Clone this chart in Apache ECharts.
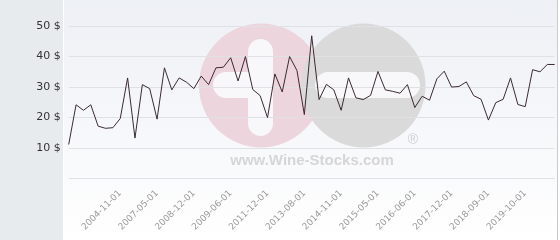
<!DOCTYPE html>
<html>
<head>
<meta charset="utf-8">
<script src="https://cdn.jsdelivr.net/npm/echarts@6/dist/echarts.min.js"></script>
<style>
html,body{margin:0;padding:0;width:560px;height:240px;overflow:hidden;background:#fff;}
#bgL{position:absolute;left:0;top:0;width:63px;height:240px;background:#e8ebee;}
#bgP{position:absolute;left:64px;top:0;width:493px;height:240px;background:linear-gradient(to bottom,#edf0f5 0%,#f6f7fa 50%,#ffffff 100%);border-right:1px solid #c9cbcf;}
#chart{position:absolute;left:0;top:0;width:560px;height:240px;}
</style>
</head>
<body>
<div id="bgL"></div>
<div id="bgP"></div>
<div id="chart"></div>
<script>
const prices = [
  11.2, 24.2, 22.4, 24.2, 17.2, 16.5, 16.7, 19.7, 33.0, 13.3,
  30.8, 29.5, 19.5, 36.3, 29.1, 33.0, 31.6, 29.5, 33.6, 30.8,
  36.3, 36.5, 39.6, 32.0, 40.0, 29.2, 27.2, 20.0, 34.3, 28.4,
  40.0, 35.4, 21.0, 46.8, 25.9, 30.9, 29.1, 22.4, 33.0, 26.5,
  25.9, 27.3, 35.1, 29.1, 28.6, 28.0, 30.8, 23.3, 27.0, 25.7,
  32.7, 35.2, 30.0, 30.2, 31.7, 27.2, 26.0, 19.2, 24.9, 26.0,
  33.0, 24.3, 23.6, 35.7, 35.0, 37.4, 37.4
];
// Visible date tick labels (every 5th observation, starting at the 8th)
const tickLabels = [
  '2004-11-01', '2007-05-01', '2008-12-01', '2009-06-01', '2011-12-01', '2013-08-01',
  '2014-11-01', '2015-05-01', '2016-06-01', '2017-12-01', '2018-09-01', '2019-10-01'
];
const firstTick = 7;
const tickStep = 5;
const yTicks = [0, 10, 20, 30, 40, 50];

const categories = prices.map((_, i) => {
  const k = (i - firstTick) / tickStep;
  return (i >= firstTick && Number.isInteger(k) && k < tickLabels.length) ? tickLabels[k] : '';
});

const chart = echarts.init(document.getElementById('chart'), null, {renderer: 'canvas'});
chart.setOption({
  animation: false,
  grid: {left: 68.7, right: 5.3, top: 26, bottom: 61.3, containLabel: false},
  xAxis: {
    type: 'category',
    data: categories,
    boundaryGap: false,
    axisLine: {show: false},
    axisTick: {show: false},
    splitLine: {show: false},
    axisLabel: {
      interval: (i) => categories[i] !== '',
      rotate: 45,
      color: '#9a9a9a',
      fontSize: 9,
      fontFamily: 'DejaVu Sans',
      margin: 13
    }
  },
  yAxis: {
    type: 'value',
    min: yTicks[0],
    max: yTicks[yTicks.length - 1],
    interval: 10,
    axisLine: {show: false},
    axisTick: {show: false},
    splitLine: {lineStyle: {color: '#e0e1e4', width: 1}},
    axisLabel: {
      formatter: (v) => v === 0 ? '' : v + ' $',
      color: '#333',
      fontSize: 11,
      fontFamily: 'DejaVu Sans',
      margin: 8
    }
  },
  graphic: [
    {type: 'circle', z: -10, silent: true, shape: {cx: 261, cy: 85.5, r: 62}, style: {fill: '#ecd5dc'}},
    {type: 'rect', z: -10, silent: true, shape: {x: 248, y: 39, width: 25, height: 97, r: 12.5}, style: {fill: '#f8f8fb'}},
    {type: 'rect', z: -10, silent: true, shape: {x: 213, y: 72, width: 52, height: 26, r: 13}, style: {fill: '#f8f8fb'}},
    {type: 'circle', z: -10, silent: true, shape: {cx: 363.5, cy: 85.5, r: 62}, style: {fill: '#dadadb'}},
    {type: 'rect', z: -10, silent: true, shape: {x: 315, y: 72, width: 105, height: 26, r: 13}, style: {fill: '#f8f8fb'}},
    {type: 'text', z: -10, silent: true, x: 413, y: 140, style: {text: '®', fill: '#cfcfd1', fontSize: 14, fontFamily: 'Liberation Sans', align: 'center', verticalAlign: 'middle'}},
    {type: 'text', z: -10, silent: true, x: 312, y: 161, style: {text: 'www.Wine-Stocks.com', fill: '#d6d6d8', fontSize: 15, fontWeight: 'bold', fontFamily: 'Liberation Sans', align: 'center', verticalAlign: 'middle'}}
  ],
  series: [{
    type: 'line',
    data: prices,
    symbol: 'none',
    lineStyle: {color: '#3b2a31', width: 1},
    z: 5
  }]
});
</script>
</body>
</html>
